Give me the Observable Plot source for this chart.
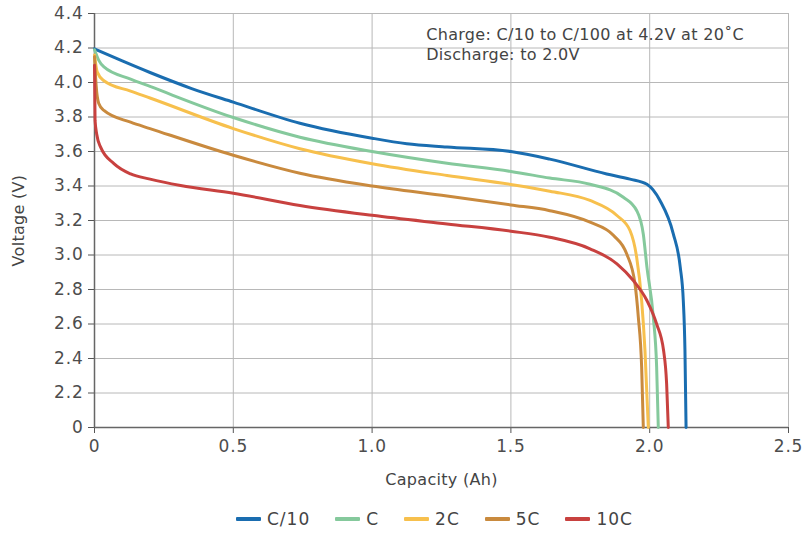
<!DOCTYPE html>
<html>
<head>
<meta charset="utf-8">
<script src="https://cdn.jsdelivr.net/npm/d3@7"></script>
<script src="https://cdn.jsdelivr.net/npm/@observablehq/plot@0.6"></script>
<style>
  body { margin: 0; background: #fff; font-family: "DejaVu Sans", sans-serif; }
  #chart svg text { letter-spacing: 0.3px; }
  #chart svg g[aria-label="x-axis tick label"] text, #chart svg g[aria-label="y-axis tick label"] text { letter-spacing: 0.8px; }
  #legend { display: flex; justify-content: center; align-items: center; width: 805px; box-sizing: border-box; padding-left: 64px; padding-top: 6px; gap: 25px; font-size: 17px; letter-spacing: 1px; color: #444; height: 42px; }
  #legend .item { display: flex; align-items: center; gap: 6px; }
  #legend .sw { width: 25px; height: 4px; border-radius: 1px; }
</style>
</head>
<body>
<div id="chart"></div>
<div id="legend"></div>
<script>
const seriesNames = ["C/10", "C", "2C", "5C", "10C"];
const seriesColors = ["#1a6db0", "#85c99c", "#f7c04d", "#c98a3e", "#c8413f"];

const capC10 = [0, 0.1, 0.2, 0.35, 0.5, 0.74, 1.0, 1.125, 1.27, 1.5, 1.64, 1.845, 1.929, 1.99, 2.037, 2.085, 2.11, 2.121, 2.127, 2.131];
const vC10   = [4.195, 4.125, 4.058, 3.965, 3.886, 3.764, 3.677, 3.645, 3.626, 3.6, 3.556, 3.47, 3.44, 3.41, 3.316, 3.123, 2.93, 2.736, 2.446, 2.0];

const capC  = [0, 0.015, 0.034, 0.13, 0.2, 0.5, 0.74, 1.0, 1.27, 1.5, 1.64, 1.785, 1.905, 1.953, 1.977, 1.99, 2.013, 2.025, 2.031];
const vC    = [4.19, 4.13, 4.09, 4.02, 3.977, 3.797, 3.683, 3.6, 3.532, 3.484, 3.446, 3.41, 3.335, 3.258, 3.12, 2.93, 2.64, 2.35, 2.0];

const cap2C = [0, 0.01, 0.034, 0.13, 0.2, 0.5, 0.74, 1.0, 1.27, 1.5, 1.64, 1.785, 1.882, 1.929, 1.953, 1.971, 1.983, 1.995];
const v2C   = [4.16, 4.06, 4.01, 3.95, 3.91, 3.733, 3.616, 3.529, 3.461, 3.409, 3.37, 3.316, 3.229, 3.142, 2.987, 2.736, 2.446, 2.0];

const cap5C = [0, 0.006, 0.015, 0.034, 0.13, 0.2, 0.5, 0.74, 1.0, 1.27, 1.5, 1.64, 1.785, 1.87, 1.917, 1.947, 1.959, 1.971, 1.977];
const v5C   = [4.15, 3.98, 3.88, 3.838, 3.77, 3.733, 3.578, 3.474, 3.4, 3.342, 3.29, 3.257, 3.19, 3.113, 3.007, 2.833, 2.64, 2.35, 2.0];

const cap10C = [0, 0.002, 0.008, 0.022, 0.07, 0.13, 0.2, 0.31, 0.5, 0.74, 1.0, 1.27, 1.5, 1.64, 1.785, 1.882, 1.941, 1.99, 2.025, 2.05, 2.061, 2.067];
const v10C   = [4.1, 3.78, 3.7, 3.625, 3.53, 3.47, 3.44, 3.403, 3.358, 3.287, 3.23, 3.18, 3.138, 3.103, 3.036, 2.949, 2.852, 2.736, 2.6, 2.446, 2.253, 2.0];

const xTicks = [0, 0.5, 1.0, 1.5, 2.0, 2.5];
const xTickLabels = ["0", "0.5", "1.0", "1.5", "2.0", "2.5"];
const yTicks = [2.0, 2.2, 2.4, 2.6, 2.8, 3.0, 3.2, 3.4, 3.6, 3.8, 4.0, 4.2, 4.4];
const yTickLabels = ["0", "2.2", "2.4", "2.6", "2.8", "3.0", "3.2", "3.4", "3.6", "3.8", "4.0", "4.2", "4.4"];
const noteText = "Charge: C/10 to C/100 at 4.2V at 20˚C\nDischarge: to 2.0V";
const xLabel = "Capacity (Ah)";
const yLabel = "Voltage (V)";

const caps = [capC10, capC, cap2C, cap5C, cap10C];
const volts = [vC10, vC, v2C, v5C, v10C];
const data = [];
seriesNames.forEach((s, i) => caps[i].forEach((c, j) => data.push({series: s, cap: c, v: volts[i][j]})));

const chart = Plot.plot({
  width: 805,
  height: 495,
  marginTop: 13,
  marginBottom: 68,
  marginLeft: 94,
  marginRight: 17,
  style: {fontFamily: "'DejaVu Sans', sans-serif", fontSize: "16px", color: "#555", background: "#fff"},
  x: {domain: [0, 2.5]},
  y: {domain: [2.0, 4.4]},
  color: {domain: seriesNames, range: seriesColors},
  marks: [
    Plot.gridX(xTicks, {stroke: "#b8b8b8", strokeOpacity: 1, strokeWidth: 1}),
    Plot.gridY(yTicks, {stroke: "#b8b8b8", strokeOpacity: 1, strokeWidth: 1}),
    Plot.axisX(xTicks, {tickFormat: (d) => xTickLabels[xTicks.indexOf(d)], tickSize: 6, tickPadding: 6, stroke: "#555", fill: "#4d4d4d", fontSize: 17, label: null}),
    Plot.axisY(yTicks, {tickFormat: (d) => yTickLabels[yTicks.indexOf(d)], tickSize: 6, tickPadding: 5, stroke: "#555", fill: "#4d4d4d", fontSize: 17, label: null}),
    Plot.ruleX([0], {stroke: "#666", strokeWidth: 1.5}),
    Plot.ruleY([2.0], {stroke: "#666", strokeWidth: 1.5}),
    Plot.line(data, {x: "cap", y: "v", z: "series", stroke: "series", strokeWidth: 3, curve: "monotone-x"}),
    Plot.text([noteText], {x: 1.195, y: 4.33, text: d => d, textAnchor: "start", lineAnchor: "top", fontSize: 16, fill: "#444", lineHeight: 1.25}),
    Plot.text([xLabel], {x: 1.25, y: 2.0, text: d => d, dy: 52, fontSize: 16, fill: "#444"}),
    Plot.text([yLabel], {x: 0, y: 3.2, text: d => d, dx: -76, rotate: -90, fontSize: 16, fill: "#444"})
  ]
});
document.getElementById("chart").appendChild(chart);

const legend = document.getElementById("legend");
seriesNames.forEach((s, i) => {
  const it = document.createElement("div");
  it.className = "item";
  it.innerHTML = `<span class="sw" style="background:${seriesColors[i]}"></span><span>${s}</span>`;
  legend.appendChild(it);
});
</script>
</body>
</html>
